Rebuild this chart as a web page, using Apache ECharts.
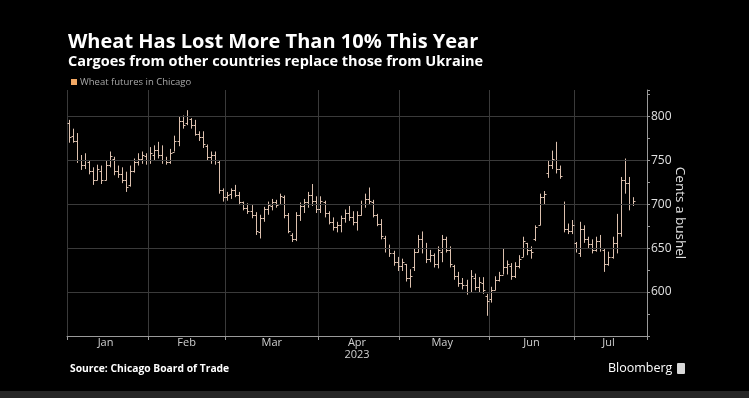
<!DOCTYPE html>
<html>
<head>
<meta charset="utf-8">
<script src="https://cdn.jsdelivr.net/npm/echarts@6/dist/echarts.min.js"></script>
<style>
  html, body { margin: 0; padding: 0; background: #000; }
  #chart { width: 749px; height: 398px; }
</style>
</head>
<body>
<div id="chart"></div>
<script>
// month names and how many daily slots each month takes on the axis (Jul includes 3 empty slots)
const months = ['Jan', 'Feb', 'Mar', 'Apr', 'May', 'Jun', 'Jul'];
const monthSlots = [20, 19, 23, 20, 22, 21, 18];
const yGridValues = [600, 650, 700, 750, 800];

// daily OHLC, cents a bushel (Jan / Feb / Mar / Apr / May / Jun / Jul)
const opens = [
  792,778,772,750,745,748,738,728,738,728,745,752,738,734,728,722,738,748,752,755,
  750,756,762,756,750,748,760,772,795,792,797,790,780,776,766,754,756,748,716,
  708,712,716,710,702,696,692,688,668,684,694,698,702,700,708,688,665,660,688,698,702,710,704,
  694,702,690,680,674,676,684,690,686,680,688,700,706,703,688,678,662,650,645,634,
  630,632,616,628,646,660,650,638,642,632,646,660,648,630,618,610,608,600,616,606,610,596,
  592,602,614,620,628,630,618,630,640,656,648,660,676,708,735,745,750,740,700,672,670,
  656,645,672,660,655,648,658,648,632,640,656,667,728,724,700
];
const highs = [
  796,786,781,756,758,750,742,745,744,750,760,754,744,742,737,744,752,758,760,758,
  765,767,771,767,754,763,778,800,801,807,798,796,783,783,768,760,760,750,718,
  714,718,722,714,703,701,699,691,688,697,703,706,705,712,710,690,667,691,702,706,714,723,709,
  709,704,692,685,680,687,694,698,692,692,704,712,719,705,689,683,664,654,647,640,
  638,632,626,650,665,669,656,648,644,652,665,663,652,631,623,616,614,625,621,617,617,598,
  606,618,623,650,636,633,634,642,663,656,652,676,712,715,750,761,771,744,703,678,682,
  657,680,676,663,660,663,665,650,646,663,689,731,752,731,708
];
const lows = [
  770,770,747,739,740,734,722,727,723,727,742,733,730,724,714,720,736,744,746,745,
  746,750,752,746,745,746,760,766,786,790,786,778,772,764,750,746,745,712,703,
  704,706,708,699,693,689,684,665,661,680,688,693,696,699,684,667,657,658,681,690,696,698,690,
  690,685,677,670,668,668,679,681,676,670,687,696,700,685,675,660,645,640,630,624,
  624,612,605,624,645,644,633,634,628,627,634,645,628,614,606,603,597,600,602,600,598,573,
  588,602,612,620,620,614,616,627,640,642,638,658,676,700,730,740,735,729,668,666,666,
  645,640,656,650,644,646,646,623,630,638,644,663,712,693,698
];
const closes = [
  776,772,750,745,750,738,728,740,728,745,755,738,734,728,720,738,748,752,756,750,
  758,762,756,750,748,758,772,795,790,800,790,780,776,768,754,756,750,716,708,
  711,716,710,702,696,692,688,670,684,694,699,702,699,709,688,670,660,688,698,702,710,704,695,
  704,690,680,674,676,684,690,686,680,688,700,706,704,688,678,664,650,645,634,630,
  634,616,618,646,660,650,638,642,632,648,660,648,632,618,610,608,600,618,606,612,602,590,
  602,614,620,628,632,618,630,638,658,648,646,674,708,712,745,752,740,732,672,670,676,
  650,672,660,655,648,658,650,632,640,656,667,728,724,700,704
];

const barColor = '#dcc0ae';
const legendColor = '#f2a864';

// axis categories: one per slot, month starts for ticks/grid, month middles for labels
const categories = [];
const monthStart = [];
const monthMid = [];
months.forEach((m, k) => {
  monthStart.push(categories.length);
  monthMid.push(categories.length + Math.floor((monthSlots[k] - 1) / 2));
  for (let d = 1; d <= monthSlots[k]; d++) categories.push(m + ' ' + d);
});
const ohlc = opens.map((o, i) => [i, o, closes[i], lows[i], highs[i]]);

// draws one OHLC bar: high-low stem, open tick left, close tick right
function renderBar(params, api) {
  const i = api.value(0);
  const x = Math.round(api.coord([i, 0])[0]) + 0.5;
  const yo = Math.round(api.coord([i, api.value(1)])[1]) + 0.5;
  const yc = Math.round(api.coord([i, api.value(2)])[1]) + 0.5;
  const yl = api.coord([i, api.value(3)])[1];
  const yh = api.coord([i, api.value(4)])[1];
  const w = 2;
  return {
    type: 'group',
    children: [
      { type: 'line', shape: { x1: x, y1: yh, x2: x, y2: yl }, style: { stroke: barColor, lineWidth: 1 } },
      { type: 'line', shape: { x1: x - w, y1: yo, x2: x, y2: yo }, style: { stroke: barColor, lineWidth: 1 } },
      { type: 'line', shape: { x1: x, y1: yc, x2: x + w, y2: yc }, style: { stroke: barColor, lineWidth: 1 } }
    ]
  };
}

const chart = echarts.init(document.getElementById('chart'));
chart.setOption({
  backgroundColor: '#000',
  animation: false,
  textStyle: { fontFamily: 'Open Sans' },
  title: {
    text: 'Wheat Has Lost More Than 10% This Year',
    subtext: 'Cargoes from other countries replace those from Ukraine',
    left: 63,
    top: 27,
    itemGap: 2,
    textStyle: { color: '#fff', fontSize: 20, fontWeight: 'bold', fontFamily: 'Open Sans' },
    subtextStyle: { color: '#fff', fontSize: 14.5, fontWeight: 'bold', fontFamily: 'Open Sans' }
  },
  legend: {
    left: 66,
    top: 72,
    icon: 'rect',
    itemWidth: 6,
    itemHeight: 6,
    itemGap: 4,
    textStyle: { color: '#a8a8a8', fontSize: 9.5, padding: [0, 0, 0, -2] },
    data: ['Wheat futures in Chicago']
  },
  grid: { left: 67, right: 102, top: 90, bottom: 62 },
  xAxis: {
    type: 'category',
    data: categories,
    boundaryGap: true,
    axisLine: { lineStyle: { color: '#9a9a9a', width: 1 } },
    axisTick: {
      show: true,
      length: 4,
      interval: (idx) => monthStart.includes(idx),
      lineStyle: { color: '#9a9a9a' }
    },
    splitLine: {
      show: true,
      interval: (idx) => monthStart.includes(idx),
      lineStyle: { color: '#3a3a3a', width: 1 }
    },
    axisLabel: {
      interval: (idx) => monthMid.includes(idx),
      color: '#cfcfcf',
      fontSize: 11,
      margin: 1,
      lineHeight: 12,
      formatter: (val) => {
        const m = val.split(' ')[0];
        return m === 'Apr' ? 'Apr\n2023' : m;
      }
    }
  },
  yAxis: {
    type: 'value',
    position: 'right',
    min: 550,
    max: 830,
    interval: 50,
    name: 'Cents a bushel',
    nameLocation: 'middle',
    nameRotate: -90,
    nameGap: 26,
    nameMoveOverlap: false,
    nameTextStyle: { color: '#e0e0e0', fontSize: 13.5 },
    axisLine: { show: true, lineStyle: { color: '#9a9a9a', width: 1 } },
    axisTick: { show: true, length: 3, lineStyle: { color: '#9a9a9a' } },
    minorTick: { show: true, splitNumber: 2, length: 3, lineStyle: { color: '#9a9a9a' } },
    splitLine: { show: false },
    axisLabel: {
      color: '#e0e0e0',
      fontSize: 12,
      margin: 4,
      showMinLabel: false,
      showMaxLabel: false
    }
  },
  series: [{
    name: 'Wheat futures in Chicago',
    type: 'custom',
    renderItem: renderBar,
    itemStyle: { color: legendColor },
    encode: { x: 0, y: [1, 2, 3, 4] },
    data: ohlc,
    z: 3,
    markLine: {
      silent: true,
      symbol: 'none',
      label: { show: false },
      lineStyle: { color: '#3a3a3a', type: 'solid', width: 1 },
      data: yGridValues.map((v) => ({ yAxis: v }))
    }
  }],
  graphic: [
    {
      type: 'text', left: 70, top: 364,
      style: { text: 'Source: Chicago Board of Trade', fill: '#fff', font: 'bold 10.3px "Open Sans"' }
    },
    {
      type: 'text', left: 608, top: 362,
      style: { text: 'Bloomberg', fill: '#fff', font: '12.5px "Open Sans"' }
    },
    {
      type: 'rect', left: 677, top: 363,
      shape: { width: 8, height: 11, r: 1 },
      style: { fill: '#d8d8d8' }
    },
    {
      type: 'rect', left: 0, top: 391,
      shape: { width: 749, height: 7 },
      style: { fill: '#262626' }
    }
  ]
});
</script>
</body>
</html>
